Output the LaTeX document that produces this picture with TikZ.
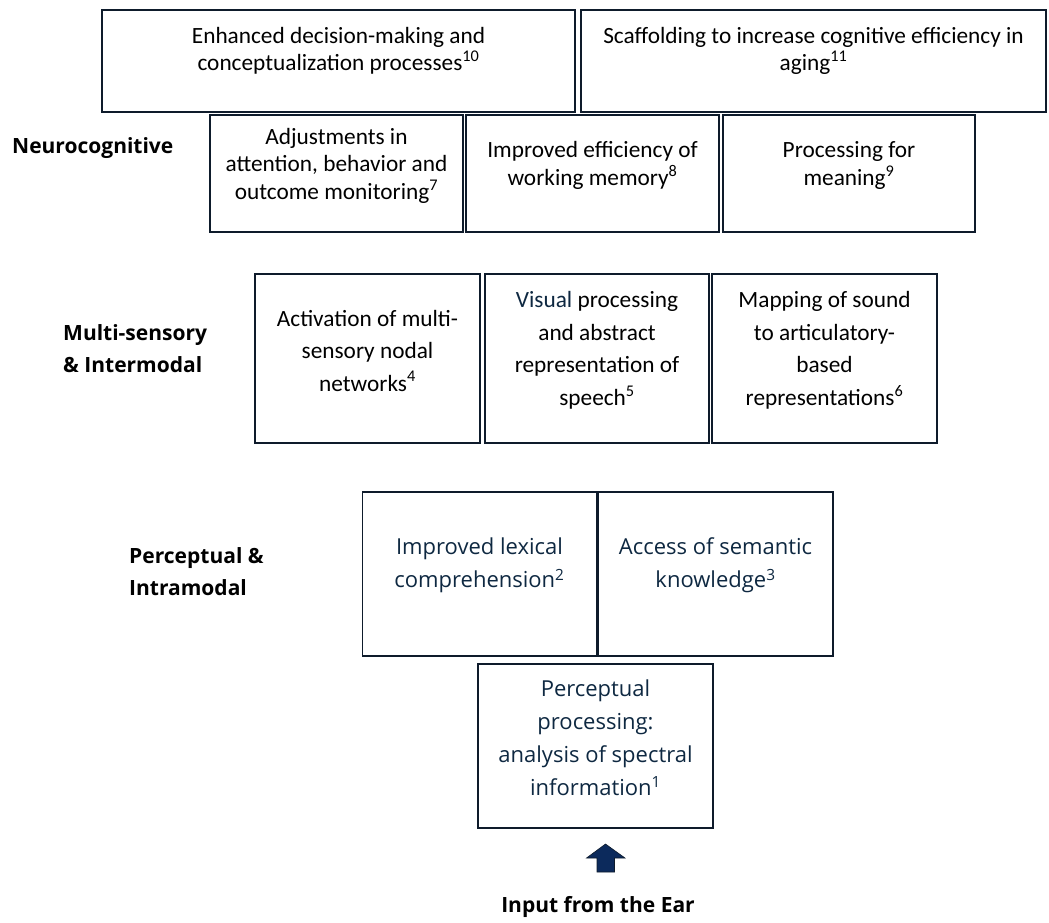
\documentclass[tikz,border=0pt]{standalone}
\usepackage{fontspec}
\setmainfont{Carlito}
\newfontfamily\aptosfont{Open Sans}
\definecolor{boxline}{HTML}{0E1B2B}
\definecolor{navytext}{HTML}{0E2841}
\definecolor{arrowfill}{HTML}{0C2A5C}

\begin{document}
\begin{tikzpicture}[x=1pt, y=-1pt,
    box/.style={draw=boxline, line width=1.8pt, inner sep=0pt},
    calibri/.style={align=center, inner sep=0pt, font=\fontsize{23.3}{27.5}\selectfont},
    calibriwide/.style={align=center, inner sep=0pt, font=\fontsize{23.3}{32.5}\selectfont},
    aptos/.style={align=center, inner sep=0pt, text=navytext, font=\aptosfont\fontsize{22}{33}\selectfont},
    level/.style={align=left, inner sep=0pt, font=\aptosfont\bfseries\fontsize{21}{32}\selectfont}]

    \useasboundingbox (0,0) rectangle (1049,922);

    % top row
    \node[box, minimum width=473, minimum height=102] (decision) at (338.5,61) {};
    \node[box, minimum width=465, minimum height=102] (scaffold) at (813.5,61) {};
    \node[calibri] (decision-t) at ([yshift=10]decision.center)
        {Enhanced decision-making and\\conceptualization processes\textsuperscript{10}};
    \node[calibri] (scaffold-t) at ([yshift=10]scaffold.center)
        {Scaffolding to increase cognitive efficiency in\\aging\textsuperscript{11}};

    % neurocognitive
    \node[level, anchor=west] (neuro) at (12,148) {Neurocognitive};
    \node[box, minimum width=253, minimum height=117] (attention) at (336.5,173.5) {};
    \node[box, minimum width=253, minimum height=117] (memory) at (592.5,173.5) {};
    \node[box, minimum width=252, minimum height=117] (meaning) at (849,173.5) {};
    \node[calibri] (attention-t) at ([yshift=8]attention.center)
        {Adjustments in\\attention, behavior and\\outcome monitoring\textsuperscript{7}};
    \node[calibri] (memory-t) at ([yshift=8]memory.center)
        {Improved efficiency of\\working memory\textsuperscript{8}};
    \node[calibri] (meaning-t) at ([yshift=8]meaning.center)
        {Processing for\\meaning\textsuperscript{9}};

    % multi-sensory
    \node[level, anchor=west] (multi) at (63,349) {Multi-sensory\\\& Intermodal};
    \node[box, minimum width=225, minimum height=169] (networks) at (367.5,358.5) {};
    \node[box, minimum width=224, minimum height=169] (visual) at (597,358.5) {};
    \node[box, minimum width=225, minimum height=169] (mapping) at (824.5,358.5) {};
    \node[calibriwide] (networks-t) at ([yshift=8]networks.center)
        {Activation of multi-\\sensory nodal\\networks\textsuperscript{4}};
    \node[calibriwide] (visual-t) at ([yshift=8]visual.center)
        {{\color{navytext}Visual} processing\\and abstract\\representation of\\speech\textsuperscript{5}};
    \node[calibriwide] (mapping-t) at ([yshift=8]mapping.center)
        {Mapping of sound\\to articulatory-\\based\\representations\textsuperscript{6}};

    % perceptual
    \node[level, anchor=west] (percept) at (129,572) {Perceptual \&\\Intramodal};
    \node[box, minimum width=234, minimum height=164] (lexical) at (479.5,574) {};
    \node[box, minimum width=235, minimum height=164] (semantic) at (715.5,574) {};
    \node[aptos] (lexical-t) at ([yshift=8.5]lexical.center)
        {Improved lexical\\comprehension\textsuperscript{2}};
    \node[aptos] (semantic-t) at ([yshift=8.5]semantic.center)
        {Access of semantic\\knowledge\textsuperscript{3}};

    \node[box, minimum width=235, minimum height=164] (spectral) at (595.5,746) {};
    \node[aptos] (spectral-t) at ([yshift=8.5]spectral.center)
        {Perceptual\\processing:\\analysis of spectral\\information\textsuperscript{1}};

    % input
    \fill[arrowfill, draw=boxline, line width=0.6pt]
        (605.5,844) -- (625,858) -- (614.5,858) -- (614.5,872) -- (597,872)
        -- (597,858) -- (586.5,858) -- cycle;
    \node[level] (ear) at (598,907) {Input from the Ear};

\end{tikzpicture}
\end{document}
